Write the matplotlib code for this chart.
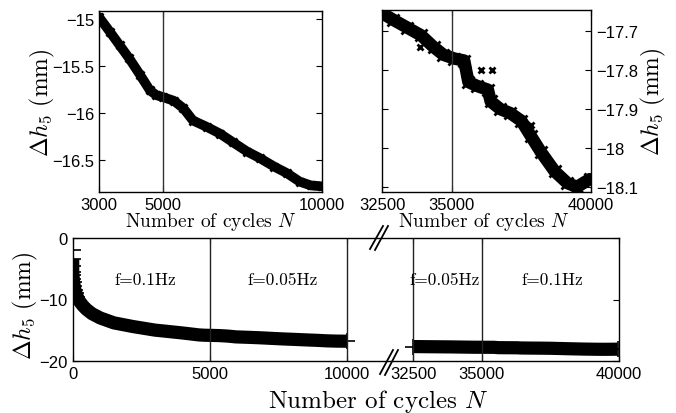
import matplotlib
matplotlib.use('Agg')
import matplotlib.pyplot as plt
from matplotlib.lines import Line2D

plt.rcParams['mathtext.fontset'] = 'cm'
plt.rcParams['axes.unicode_minus'] = True

# valores
cyc_ini = [0, 0, 0, 10, 20, 35, 55, 80, 120, 170, 250, 370, 500, 700, 1000, 1500, 2200]
dh_ini = [-3.4, -4.5, -5.5, -6.0, -6.6, -7.2, -7.8, -8.4, -9.0, -9.6, -10.3, -11.0, -11.6, -12.3, -13.0, -13.8, -14.4]
cyc_a = [3000, 3350, 3650, 3950, 4300, 4600, 4800, 5000, 5350, 5650, 5950,
         6400, 6800, 7200, 7650, 8050, 8500, 8900, 9300, 9650, 10000]
dh_a = [-14.98, -15.14, -15.28, -15.42, -15.60, -15.76, -15.81, -15.83, -15.87, -15.95, -16.08,
        -16.15, -16.22, -16.31, -16.41, -16.48, -16.57, -16.64, -16.73, -16.77, -16.78]
cyc_b = [32500, 32900, 33400, 33900, 34350, 34700, 35100, 35450, 35600, 35900, 36300,
         36400, 36750, 37100, 37500, 37850, 38200, 38700, 39150, 39500, 39950]
dh_b = [-17.653, -17.67, -17.69, -17.71, -17.74, -17.76, -17.77, -17.775, -17.83, -17.84, -17.85,
        -17.88, -17.90, -17.91, -17.93, -17.97, -18.01, -18.06, -18.09, -18.10, -18.08]
out_cyc = [33850, 36050, 36450, 37850]
out_dh = [-17.74, -17.80, -17.80, -17.94]
cyc_first, dh_first = [0], [-2.0]

# eje partido: 32500 se dibuja en 12400
shift = 20100
W, H = 676, 414

lab = '$\\Delta h_5$ (mm)'


def rect(l, r, t, b):
    return [l / W, (H - b) / H, (r - l) / W, (b - t) / H]


def style(ax):
    ax.tick_params(direction='in', top=True, right=True, length=4, width=0.8)
    for s in ax.spines.values():
        s.set_linewidth(1.0)
    for t in ax.get_xticklabels() + ax.get_yticklabels():
        t.set_fontfamily('Liberation Sans')
        t.set_fontsize(12)


fig = plt.figure(figsize=(W / 100, H / 100), dpi=100)

# arriba izquierda
ax1 = fig.add_axes(rect(99, 322, 12, 193))
ax1.plot(cyc_a, dh_a, '-', color='black', lw=7, solid_capstyle='round')
ax1.plot(cyc_a, dh_a, 'x', color='black', ms=6, mew=2)
ax1.axvline(5000, color='#333333', lw=1)
ax1.set_xlim(3000, 10000)
ax1.set_ylim(-16.84, -14.915)
ax1.set_xticks([3000, 5000, 10000])
ax1.set_xticklabels(['3000', '5000', '10000'])
ax1.set_yticks([-15, -15.5, -16, -16.5])
ax1.set_yticklabels(['\u221215', '\u221215.5', '\u221216', '\u221216.5'])
style(ax1)
ax1.set_xlabel('Number of cycles $N$', family='cmr10', fontsize=14)
ax1.xaxis.set_label_coords(0.5, -0.1)
ax1.set_ylabel(lab, family='cmr10', fontsize=17)
ax1.yaxis.set_label_coords(-0.19, 0.5)

# arriba derecha
ax2 = fig.add_axes(rect(382, 591, 11, 193))
ax2.plot(cyc_b, dh_b, '-', color='black', lw=9, solid_capstyle='round')
ax2.plot(cyc_b, dh_b, 'x', color='black', ms=8, mew=2)
ax2.plot(out_cyc, out_dh, 'x', color='black', ms=5, mew=2)
ax2.axvline(35000, color='#333333', lw=1)
ax2.set_xlim(32500, 40000)
ax2.set_ylim(-18.113, -17.645)
ax2.set_xticks([32500, 35000, 40000])
ax2.set_xticklabels(['32500', '35000', '40000'])
ax2.set_yticks([-17.7, -17.8, -17.9, -18, -18.1])
ax2.set_yticklabels(['\u221217.7', '\u221217.8', '\u221217.9', '\u221218', '\u221218.1'])
ax2.yaxis.tick_right()
style(ax2)
ax2.tick_params(left=True, labelleft=False, labelright=True)
ax2.set_xlabel('Number of cycles $N$', family='cmr10', fontsize=14)
ax2.xaxis.set_label_coords(0.49, -0.1)
ax2.yaxis.set_label_position('right')
ax2.set_ylabel(lab, family='cmr10', fontsize=17)
ax2.yaxis.set_label_coords(1.23, 0.5)

# abajo, eje partido
ax3 = fig.add_axes(rect(72.7, 619, 239, 362))
cyc_full = cyc_ini + cyc_a
dh_full = dh_ini + dh_a
ax3.plot(cyc_full, dh_full, '-', color='black', lw=9.5, solid_capstyle='butt')
# cruces sueltas al principio y al final
ax3.plot(cyc_first + cyc_ini[:10] + cyc_a[-1:], dh_first + dh_ini[:10] + dh_a[-1:], '+',
         color='black', ms=11, mew=1.2)
cyc_b_s = [c - shift for c in cyc_b]
ax3.plot(cyc_b_s, dh_b, '-', color='black', lw=9.5, solid_capstyle='butt')
ax3.plot([cyc_b_s[0], cyc_b_s[-1]], [dh_b[0], dh_b[-1]], '+', color='black', ms=12, mew=1.2)
for xv in [5000, 10000, 32500 - shift, 35000 - shift]:
    ax3.axvline(xv, color='#222222', lw=1)
ax3.set_xlim(0, 40000 - shift)
ax3.set_ylim(-20, 0)
ax3.set_xticks([0, 5000, 10000, 32500 - shift, 35000 - shift, 40000 - shift])
ax3.set_xticklabels(['0', '5000', '10000', '32500', '35000', '40000'])
ax3.set_yticks([0, -10, -20])
ax3.set_yticklabels(['0', '\u221210', '\u221220'])
style(ax3)
txt = dict(family='cmr10', fontsize=12.5, ha='center', va='center')
ax3.text(2630, -6.7, 'f=0.1Hz', **txt)
ax3.text(7630, -6.7, 'f=0.05Hz', **txt)
ax3.text(13560, -6.7, 'f=0.05Hz', **txt)
ax3.text(17470, -6.7, 'f=0.1Hz', **txt)
ax3.set_xlabel('Number of cycles $N$', family='cmr10', fontsize=18)
ax3.xaxis.set_label_coords(0.559, -0.21)
ax3.set_ylabel(lab, family='cmr10', fontsize=17)
ax3.yaxis.set_label_coords(-0.06, 0.46)

# marcas de corte //
cortes = [((370, 250), (383, 227)), ((375, 251), (388, 227)),
          ((380, 375), (393, 351)), ((385, 376), (398, 351))]
for (xa, ya), (xb, yb) in cortes:
    fig.add_artist(Line2D([xa / W, xb / W], [(H - ya) / H, (H - yb) / H],
                          color='black', lw=1.3, transform=fig.transFigure))

fig.savefig('out.png', dpi=100)
